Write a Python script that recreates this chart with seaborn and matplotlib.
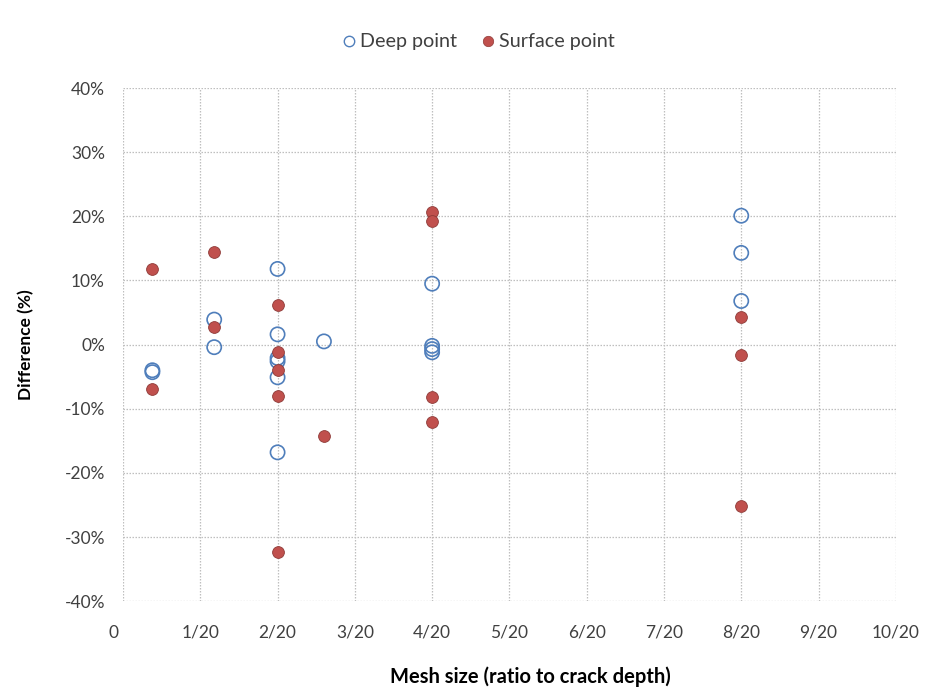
import matplotlib
matplotlib.use("Agg")
import matplotlib.pyplot as plt
import matplotlib.ticker as mticker
from matplotlib.lines import Line2D
import numpy as np
import pandas as pd
import seaborn as sns

# Mesh size (fraction of crack depth) and difference (%) for each point type
deep_mesh = [0.019, 0.019, 0.059, 0.059,
             0.1, 0.1, 0.1, 0.1, 0.1, 0.1,
             0.13,
             0.2, 0.2, 0.2, 0.2,
             0.4, 0.4, 0.4]
deep_diff = [-4.0, -4.3, 3.9, -0.4,
             11.8, 1.6, -2.1, -2.6, -5.1, -16.8,
             0.5,
             9.5, -0.2, -0.7, -1.2,
             20.1, 14.3, 6.8]

surface_mesh = [0.019, 0.019, 0.059, 0.059,
                0.1, 0.1, 0.1, 0.1, 0.1,
                0.13,
                0.2, 0.2, 0.2, 0.2,
                0.4, 0.4, 0.4]
surface_diff = [11.8, -6.9, 14.4, 2.7,
                6.1, -1.1, -4.0, -8.0, -32.4,
                -14.2,
                20.6, 19.2, -8.2, -12.1,
                4.3, -1.6, -25.2]

x_ticks = [0, 0.05, 0.10, 0.15, 0.20, 0.25, 0.30, 0.35, 0.40, 0.45, 0.50]
x_tick_labels = ["0    ", "1/20", "2/20", "3/20", "4/20", "5/20",
                 "6/20", "7/20", "8/20", "9/20", "10/20"]
y_ticks = [-40, -30, -20, -10, 0, 10, 20, 30, 40]

deep = pd.DataFrame({"mesh": deep_mesh, "diff": deep_diff})
surface = pd.DataFrame({"mesh": surface_mesh, "diff": surface_diff})

sns.set_theme(style="white")
plt.rcParams["font.family"] = ["Lato", "DejaVu Sans"]

BLUE = "#4F7EBB"
RED = "#C0504D"
RED_EDGE = "#8E3A37"
TEXT = "#404040"

fig = plt.figure(figsize=(9.39, 6.99), dpi=100)
ax = fig.add_axes([0.131, 0.140, 0.823, 0.734])

sns.scatterplot(data=deep, x="mesh", y="diff", ax=ax, marker="o",
                s=105, facecolor="none", edgecolor=BLUE, linewidth=1.2,
                zorder=3)
sns.scatterplot(data=surface, x="mesh", y="diff", ax=ax, marker="o",
                s=72, color=RED, edgecolor=RED_EDGE, linewidth=0.6,
                zorder=4)

ax.set_xlim(0, 0.5)
ax.set_ylim(-40, 40)
ax.set_xticks(x_ticks)
ax.set_xticklabels(x_tick_labels)
ax.set_yticks(y_ticks)
ax.yaxis.set_major_formatter(mticker.FuncFormatter(lambda v, p: f"{v:.0f}%"))

ax.grid(True, color="#BFBFBF", linestyle=(0, (1.2, 1.2)), linewidth=0.9)
for sp in ax.spines.values():
    sp.set_visible(False)
ax.tick_params(axis="both", length=0, labelsize=12.5, colors=TEXT)
ax.tick_params(axis="x", pad=17)
ax.tick_params(axis="y", pad=13)

ax.set_xlabel("Mesh size (ratio to crack depth)", fontsize=14.5,
              fontweight="bold", color="black")
ax.xaxis.set_label_coords(0.527, -0.128)
ax.set_ylabel("Difference (%)", fontsize=12.5, fontweight="bold",
              color="black", labelpad=22)

handles = [
    Line2D([], [], marker="o", linestyle="none", markersize=7.5,
           markerfacecolor="none", markeredgecolor=BLUE, markeredgewidth=1.0),
    Line2D([], [], marker="o", linestyle="none", markersize=7.5,
           markerfacecolor=RED, markeredgecolor=RED_EDGE, markeredgewidth=0.5),
]
fig.legend(handles, ["Deep point", "Surface point"], loc="center",
           bbox_to_anchor=(0.508, 0.94), ncol=2, frameon=False,
           fontsize=14.2, handlelength=1.0, handletextpad=0.05,
           columnspacing=1.1, labelcolor=TEXT)

fig.savefig("out.png", dpi=100)
